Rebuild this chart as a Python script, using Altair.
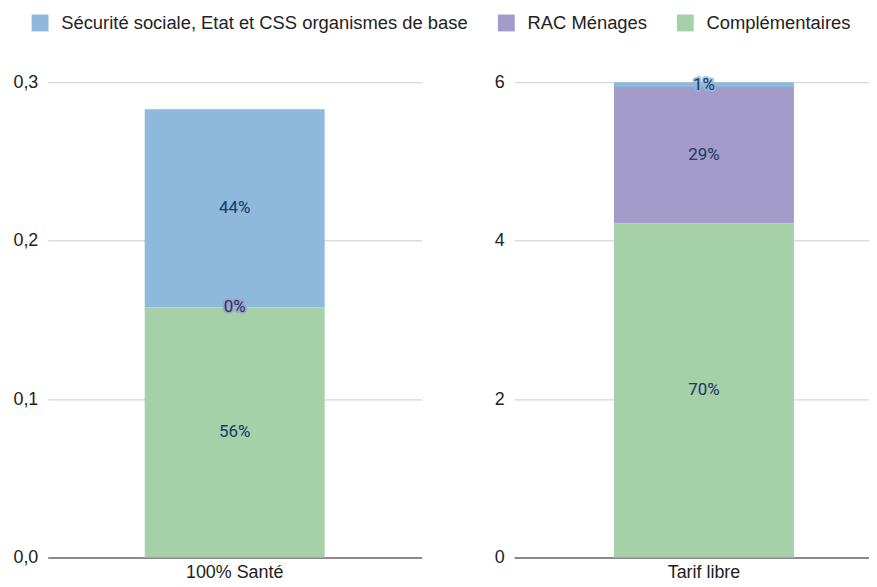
import altair as alt
import pandas as pd

categories = ["100% Santé", "Tarif libre"]
series = ["Sécurité sociale, Etat et CSS organismes de base", "RAC Ménages", "Complémentaires"]
colors = ["#8eb9dc", "#a39cca", "#a6d0a7"]
secu = [0.125, 0.06]
rac = [0.0, 1.72]
comp = [0.158, 4.22]
pct_secu = ["44%", "1%"]
pct_rac = ["0%", "29%"]
pct_comp = ["56%", "70%"]
y_domains = [[0, 0.3], [0, 6]]
y_ticks = [[0, 0.1, 0.2, 0.3], [0, 2, 4, 6]]
y_formats = [".1f", "d"]

rows = []
for i, c in enumerate(categories):
    rows.append({"cat": c, "series": series[0], "value": secu[i], "pct": pct_secu[i], "rank": 2, "halo": colors[0]})
    rows.append({"cat": c, "series": series[1], "value": rac[i], "pct": pct_rac[i], "rank": 1, "halo": colors[1]})
    rows.append({"cat": c, "series": series[2], "value": comp[i], "pct": pct_comp[i], "rank": 0, "halo": colors[2]})
df = pd.DataFrame(rows)

color_scale = alt.Scale(domain=series, range=colors)
text_color = "#1e3d68"

panels = []
widths = [376, 357]
aligns = [0.5, 0.57]
for i, c in enumerate(categories):
    base = alt.Chart(df).transform_filter(alt.datum.cat == c).transform_stack(
        stack="value", groupby=["cat"], as_=["y0", "y1"],
        sort=[alt.SortField("rank", order="ascending")]
    ).transform_calculate(mid="(datum.y0 + datum.y1) / 2")
    yscale = alt.Scale(domain=y_domains[i], nice=False)
    xscale = alt.Scale(paddingInner=0, paddingOuter=0.5, align=aligns[i])
    xenc = alt.X("cat:N", title=None, scale=xscale,
                 axis=alt.Axis(labelAngle=0, domainColor="#333333", domainWidth=1.2,
                               ticks=False, labelPadding=6, labelFontSize=18,
                               labelColor="#222222", labelFont="Liberation Sans"))
    yaxis = alt.Axis(title=None, values=y_ticks[i], domain=False, ticks=False,
                     labelPadding=10, labelFontSize=18, labelColor="#222222",
                     labelFont="Liberation Sans", gridColor="#cccccc",
                     labelExpr="replace(format(datum.value, '%s'), '.', ',')" % y_formats[i])
    bars = base.mark_bar(size=181).encode(
        x=xenc,
        y=alt.Y("y0:Q", scale=yscale, axis=yaxis),
        y2="y1:Q",
        color=alt.Color("series:N", scale=color_scale, title=None),
    )
    halo = base.mark_text(fontSize=17, font="Roboto", strokeWidth=4, strokeJoin="round",
                          strokeOpacity=0.8, fill=text_color).encode(
        x=alt.X("cat:N", scale=xscale),
        y=alt.Y("mid:Q", scale=yscale),
        text="pct:N",
        stroke=alt.Stroke("halo:N", scale=None),
    )
    labels = base.mark_text(fontSize=17, font="Roboto", color=text_color).encode(
        x=alt.X("cat:N", scale=xscale),
        y=alt.Y("mid:Q", scale=yscale),
        text="pct:N",
    )
    panels.append(alt.layer(bars, halo, labels).properties(width=widths[i], height=478))

chart = alt.hconcat(*panels, spacing=72).resolve_scale(y="independent").properties(
    padding={"left": 4, "top": 4, "right": 0, "bottom": 0}
).configure_view(stroke=None).configure_legend(
    orient="none", legendX=-17, legendY=-69, direction="horizontal",
    symbolType="square", symbolSize=289, symbolStrokeWidth=0, labelFontSize=18.5,
    labelFont="Liberation Sans", labelColor="#222222", columnPadding=29,
    labelOffset=12, padding=0, labelLimit=600
)

chart.save("out.html", embed_options={"renderer": "svg", "actions": False})
